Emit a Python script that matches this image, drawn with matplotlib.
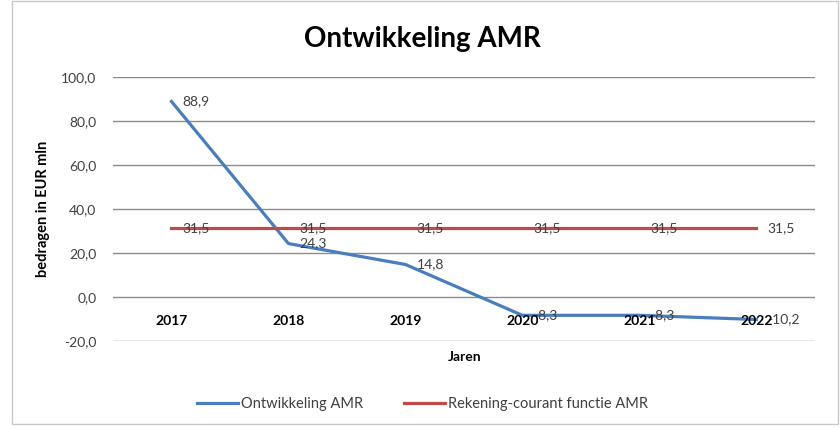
import numpy as np
import matplotlib
matplotlib.use('agg')
import matplotlib.pyplot as plt
from matplotlib.patches import Rectangle

years = ['2017', '2018', '2019', '2020', '2021', '2022']
ontwikkeling = [88.9, 24.3, 14.8, -8.3, -8.3, -10.2]
rekening_courant = [31.5, 31.5, 31.5, 31.5, 31.5, 31.5]
y_ticks = [-20, 0, 20, 40, 60, 80, 100]

plt.rcParams['font.family'] = ['Lato', 'DejaVu Sans']

def fmt(v):
    return ('%.1f' % v).replace('.', ',')

fig = plt.figure(figsize=(8.4, 4.29), dpi=100)
fig.patches.append(Rectangle((12 / 840, 0.012), 1 - 12 / 840 - 0.002, 0.985,
                             transform=fig.transFigure, fill=False,
                             edgecolor='#c8c8c8', linewidth=1))
ax = fig.add_axes([0.1345, 0.205, 0.8355, 0.6155])

x = np.arange(len(years))
blue = '#4a7ebb'
red = '#be4b48'
ax.plot(x, ontwikkeling, color=blue, linewidth=2.3, label='Ontwikkeling AMR', zorder=3)
ax.plot(x, rekening_courant, color=red, linewidth=2.3,
        label='Rekening-courant functie AMR', zorder=3)

for xi, v in zip(x, ontwikkeling):
    ax.annotate(fmt(v), (xi, v), xytext=(8, 0), textcoords='offset points',
                ha='left', va='center', fontsize=10, color='#404040', zorder=4)
for xi, v in zip(x, rekening_courant):
    ax.annotate(fmt(v), (xi, v), xytext=(8, 0), textcoords='offset points',
                ha='left', va='center', fontsize=10, color='#404040', zorder=4)

ax.set_xlim(-0.5, len(years) - 0.5)
ax.set_ylim(-20, 100)
ax.set_yticks(y_ticks)
ax.set_yticklabels([fmt(v) for v in y_ticks], fontsize=10, color='#404040')
ax.tick_params(axis='y', length=0, pad=12)
ax.set_xticks([])
ax.grid(axis='y', color='#8c8c8c', linewidth=1)
ax.set_axisbelow(True)
for s in ax.spines.values():
    s.set_visible(False)

# category labels sit just below the zero line
for xi, yr in zip(x, years):
    ax.annotate(yr, (xi, 0), xytext=(0, -17), textcoords='offset points',
                ha='center', va='center', fontsize=10, fontweight='bold', zorder=5)

ax.set_ylabel('bedragen in EUR mln', fontsize=10.5, fontweight='bold', labelpad=8)
fig.text(0.553, 0.168, 'Jaren', ha='center', va='center', fontsize=10, fontweight='bold')
fig.text(0.503, 0.91, 'Ontwikkeling AMR', ha='center', va='center', fontsize=20, fontweight='bold')

fig.legend(loc='center', bbox_to_anchor=(0.503, 0.058), ncol=2, frameon=False,
           fontsize=10.5, handlelength=2.8, handletextpad=0.2, columnspacing=2.8,
           labelcolor='#404040')

fig.savefig('out.png', dpi=100)
